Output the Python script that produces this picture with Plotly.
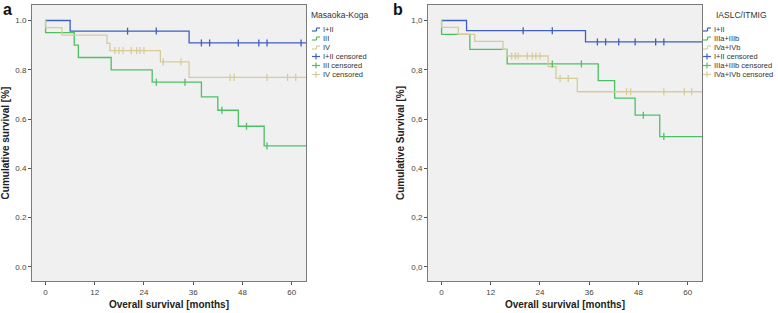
import plotly.graph_objects as go
import numpy as np

# ---------------- DATA ----------------
# Panel a: Masaoka-Koga
a_names = ["I+II", "III", "IV"]
a_t = [
    [0, 6, 35, 64],
    [0, 0.01, 7, 8, 16, 26, 38, 42, 47, 53.3, 64],
    [0, 0.01, 4, 15, 15.7, 28, 35, 64],
]
a_s = [
    [1.0, 0.957, 0.909, 0.909],
    [1.0, 0.951, 0.90, 0.85, 0.80, 0.75, 0.69, 0.636, 0.571, 0.491, 0.491],
    [1.0, 0.971, 0.941, 0.907, 0.878, 0.832, 0.769, 0.769],
]
a_cens = [
    [20, 27, 38, 40, 47, 52, 54, 62.3],
    [27, 34, 43, 49, 54],
    [16.9, 17.9, 18.9, 20.9, 22.2, 23, 24, 28.7, 33, 45, 46, 54, 59, 61],
]

# Panel b: IASLC/ITMIG
b_names = ["I+II", "IIIa+IIIb", "IVa+IVb"]
b_t = [
    [0, 6.1, 35.1, 64],
    [0, 0.01, 6.9, 16, 38.2, 42.2, 47.2, 53.2, 64],
    [0, 0.01, 4.1, 8.1, 15, 16, 26, 27.9, 33.1, 64],
]
b_s = [
    [1.0, 0.959, 0.913, 0.913],
    [1.0, 0.944, 0.883, 0.824, 0.756, 0.685, 0.616, 0.529, 0.529],
    [1.0, 0.972, 0.944, 0.915, 0.883, 0.856, 0.813, 0.765, 0.711, 0.711],
]
b_cens = [
    [19.9, 27, 38, 40, 43.2, 47.2, 52.2, 54.2],
    [27, 34.1, 49.2, 54.2],
    [17.1, 18, 18.7, 20.9, 22.1, 23, 24, 28.9, 30.9, 45.1, 46.1, 54.2, 59.2, 61],
]

x_ticks = [0, 12, 24, 36, 48, 60]
y_ticks = [0.0, 0.2, 0.4, 0.6, 0.8, 1.0]
a_ytext = ["0.0", "0.2", "0.4", "0.6", "0.8", "1.0"]
b_ytext = ["0,0", "0,2", "0,4", "0,6", "0,8", "1,0"]

colors = ["#3f5fc2", "#4cc163", "#d6cc98"]

# ---------------- FIGURE ----------------
fig = go.Figure()

def step_val(ts, ss, t):
    idx = np.searchsorted(np.array(ts), t, side="right") - 1
    return ss[max(idx, 0)]

def add_panel(ts_list, ss_list, cens_list, xa, ya):
    for i in range(3):
        fig.add_trace(go.Scatter(
            x=ts_list[i], y=ss_list[i], mode="lines", line_shape="hv",
            line=dict(color=colors[i], width=1.3), xaxis=xa, yaxis=ya,
            showlegend=False, hoverinfo="skip"))
    for i in range(3):
        cy = [step_val(ts_list[i], ss_list[i], t) for t in cens_list[i]]
        fig.add_trace(go.Scatter(
            x=cens_list[i], y=cy, mode="markers",
            marker=dict(symbol="line-ns-open", size=5, color=colors[i],
                        line=dict(color=colors[i], width=1.3)),
            xaxis=xa, yaxis=ya, showlegend=False, hoverinfo="skip"))

add_panel(a_t, a_s, a_cens, "x", "y")
add_panel(b_t, b_s, b_cens, "x2", "y2")

W, H = 778, 313
ydom = [(H - 281) / H, (H - 5) / H]
font = "Liberation Sans, Arial, sans-serif"

axis_common = dict(
    showgrid=False, zeroline=False, showline=True, linecolor="#7a7a7a",
    linewidth=1, mirror=True, ticks="outside", ticklen=3, tickcolor="#555",
    tickfont=dict(family=font, size=8, color="#444"),
)
xr = [-3.3, 63.5]
yr = [-0.057, 1.063]

fig.update_layout(
    width=W, height=H, margin=dict(l=0, r=0, t=0, b=0),
    paper_bgcolor="white", plot_bgcolor="#f0f0f0",
    xaxis=dict(domain=[32 / W, 306 / W], range=xr, tickvals=x_ticks,
               ticktext=[str(v) for v in x_ticks],
               title=dict(text="<b>Overall survival [months]</b>", standoff=5,
                          font=dict(family=font, size=10, color="#222")),
               **axis_common),
    yaxis=dict(domain=ydom, range=yr, tickvals=y_ticks, ticktext=a_ytext,
               title=dict(text="<b>Cumulative survival [%]</b>", standoff=4,
                          font=dict(family=font, size=10, color="#222")),
               **axis_common),
    xaxis2=dict(domain=[428 / W, 702 / W], range=xr, tickvals=x_ticks,
                ticktext=[str(v) for v in x_ticks], anchor="y2",
                title=dict(text="<b>Overall survival [months]</b>", standoff=5,
                           font=dict(family=font, size=10, color="#222")),
                **axis_common),
    yaxis2=dict(domain=ydom, range=yr, tickvals=y_ticks, ticktext=b_ytext,
                anchor="x2",
                title=dict(text="<b>Cumulative Survival [%]</b>", standoff=4,
                           font=dict(family=font, size=10, color="#222")),
                **axis_common),
    showlegend=False,
)

# Panel letters
fig.add_annotation(x=1 / W, y=1 - 9 / H, xref="paper", yref="paper", text="<b>a</b>",
                   showarrow=False, xanchor="left", yanchor="middle",
                   font=dict(family=font, size=16, color="#111"))
fig.add_annotation(x=391 / W, y=1 - 9 / H, xref="paper", yref="paper", text="<b>b</b>",
                   showarrow=False, xanchor="left", yanchor="middle",
                   font=dict(family=font, size=16, color="#111"))

# Custom compact legends (SPSS style)
def add_legend(title, title_x, icon_x, names):
    fig.add_annotation(x=title_x / W, y=1 - 15 / H, xref="paper", yref="paper",
                       text=title, showarrow=False, xanchor="left", yanchor="middle",
                       font=dict(family=font, size=8.5, color="#333"))
    rows = [29.5, 38.5, 47.5, 56.5, 65.5, 74.5]
    labels = names + [n + " censored" for n in names]
    for k, (yy, lab) in enumerate(zip(rows, labels)):
        c = colors[k % 3]
        x0, x1 = icon_x, icon_x + 8
        if k < 3:
            xm = x0 + 4.5
            fig.add_shape(type="line", xref="paper", yref="paper",
                          x0=x0 / W, x1=xm / W, y0=1 - (yy + 1.5) / H, y1=1 - (yy + 1.5) / H,
                          line=dict(color=c, width=1.2))
            fig.add_shape(type="line", xref="paper", yref="paper",
                          x0=xm / W, x1=xm / W, y0=1 - (yy + 1.5) / H, y1=1 - (yy - 1.5) / H,
                          line=dict(color=c, width=1.2))
            fig.add_shape(type="line", xref="paper", yref="paper",
                          x0=xm / W, x1=x1 / W, y0=1 - (yy - 1.5) / H, y1=1 - (yy - 1.5) / H,
                          line=dict(color=c, width=1.2))
        else:
            fig.add_shape(type="line", xref="paper", yref="paper",
                          x0=x0 / W, x1=x1 / W, y0=1 - yy / H, y1=1 - yy / H,
                          line=dict(color=c, width=1.2))
            xm = (x0 + x1) / 2
            fig.add_shape(type="line", xref="paper", yref="paper",
                          x0=xm / W, x1=xm / W, y0=1 - (yy - 3) / H, y1=1 - (yy + 3) / H,
                          line=dict(color=c, width=1.2))
        fig.add_annotation(x=(x1 + 0.5) / W, y=1 - yy / H, xref="paper", yref="paper",
                           text=lab, showarrow=False, xanchor="left", yanchor="middle",
                           font=dict(family=font, size=7.5, color="#333"))

add_legend("Masaoka-Koga", 309, 312, a_names)
add_legend("IASLC/ITMIG", 714, 703, b_names)

fig.write_html("out.html", config={"displayModeBar": False},
               post_script="document.body.style.margin='0';")
